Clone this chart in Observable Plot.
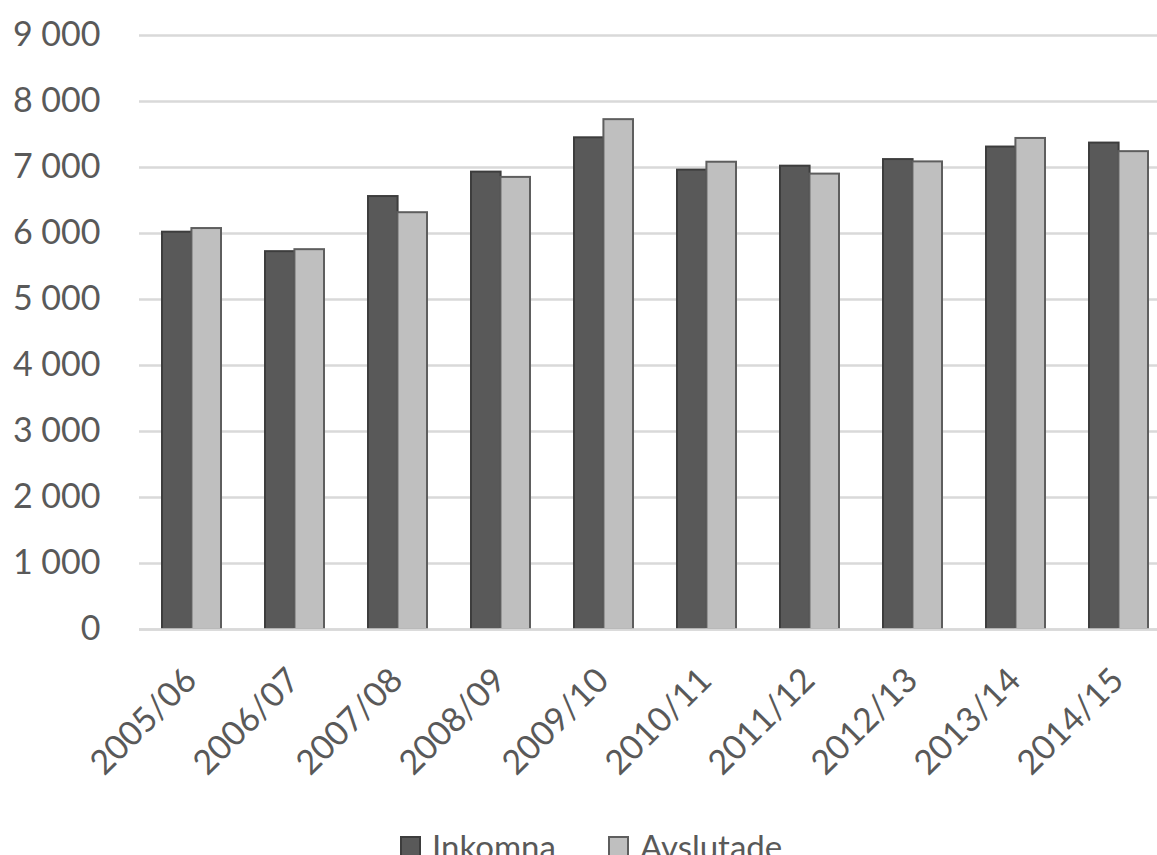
<!DOCTYPE html>
<html>
<head>
<meta charset="utf-8">
<script src="https://cdn.jsdelivr.net/npm/d3@7"></script>
<script src="https://cdn.jsdelivr.net/npm/@observablehq/plot@0.6"></script>
<style>
  body { margin: 0; background: #fff; font-family: Lato, "Open Sans", sans-serif; }
  #wrap { position: relative; width: 1157px; height: 855px; overflow: hidden; }
  #legend { position: absolute; left: 400px; top: 826px; display: flex; align-items: center; font-size: 33px; color: #595959; white-space: nowrap; }
  #legend .sw { display: inline-block; width: 21px; height: 21px; margin-right: 11px; box-sizing: border-box; }
  #legend .item { display: flex; align-items: center; margin-right: 52px; }
</style>
</head>
<body>
<div id="wrap">
  <div id="chart"></div>
  <div id="legend"></div>
</div>
<script>
const years = ["2005/06","2006/07","2007/08","2008/09","2009/10","2010/11","2011/12","2012/13","2013/14","2014/15"];
const inkomna = [6020, 5725, 6560, 6930, 7450, 6960, 7020, 7120, 7310, 7370];
const avslutade = [6075, 5755, 6315, 6850, 7725, 7080, 6900, 7085, 7440, 7240];
const yTicks = [0,1000,2000,3000,4000,5000,6000,7000,8000,9000];
const seriesNames = ["Inkomna", "Avslutade"];
const seriesFill = ["#595959", "#bfbfbf"];
const seriesStroke = ["#3d3d3d", "#5e5e5e"];

const dataInk = years.map((y, i) => ({year: y, value: inkomna[i]}));
const dataAvs = years.map((y, i) => ({year: y, value: avslutade[i]}));

const fmt = d => d3.format(",")(d).replace(/,/g, " ");
const half = 103.2 * 0.57 / 2;

const chart = Plot.plot({
  width: 1157,
  height: 800,
  marginLeft: 139,
  marginRight: 0,
  marginTop: 35,
  marginBottom: 171,
  style: { fontFamily: "Lato, 'Open Sans', sans-serif", color: "#595959", background: "#fff" },
  x: { domain: years, range: [139, 1171], paddingInner: 0.43, paddingOuter: 0.215, align: 0.5 },
  y: { domain: [0, 9000] },
  marks: [
    Plot.gridY(yTicks, { stroke: "#d9d9d9", strokeOpacity: 1, strokeWidth: 2.5 }),
    Plot.barY(dataInk, { x: "year", y: "value", fill: seriesFill[0], stroke: seriesStroke[0], strokeWidth: 2, insetRight: half }),
    Plot.barY(dataAvs, { x: "year", y: "value", fill: seriesFill[1], stroke: seriesStroke[1], strokeWidth: 2, insetLeft: half }),
    Plot.ruleY([0], { stroke: "#d9d9d9", strokeWidth: 2.5 }),
    Plot.axisY(yTicks, { tickSize: 0, tickPadding: 39, tickFormat: fmt, fontSize: 34, fill: "#595959", label: null }),
    Plot.axisX({ tickSize: 0, tickRotate: -45, tickPadding: 45, fontSize: 34, fill: "#595959", dx: -1, label: null })
  ]
});
document.getElementById("chart").appendChild(chart);

const legend = document.getElementById("legend");
seriesNames.forEach((n, i) => {
  const item = document.createElement("div");
  item.className = "item";
  const sw = document.createElement("span");
  sw.className = "sw";
  sw.style.background = seriesFill[i];
  sw.style.border = "2px solid " + seriesStroke[i];
  item.appendChild(sw);
  item.appendChild(document.createTextNode(n));
  legend.appendChild(item);
});
</script>
</body>
</html>
